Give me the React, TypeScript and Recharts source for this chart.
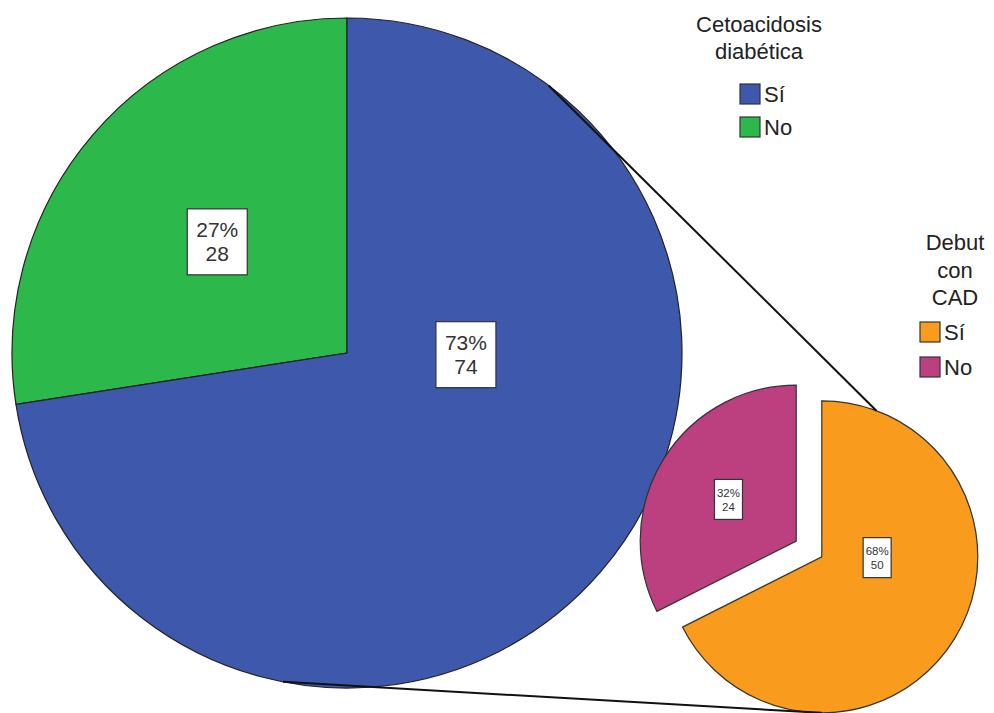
import React from 'react';
import { PieChart, Pie, Cell } from 'recharts';

const cadCategories = ['Sí', 'No'];
const cadValues = [74, 28];
const cadColors = ['#3E58AC', '#2DB84B'];
const cadTitle = ['Cetoacidosis', 'diabética'];

const debutCategories = ['Sí', 'No'];
const debutValues = [50, 24];
const debutColors = ['#F99B1C', '#BC3F7F'];
const debutTitle = ['Debut', 'con', 'CAD'];

const W = 994;
const H = 713;
const FONT = '"Liberation Sans", Arial, sans-serif';

// Big pie geometry
const BIG = { cx: 347, cy: 353, r: 335 };
// Small pie geometry
const SMALL = { cx: 809, cy: 549, r: 156, explode: 15 };

// order in big pie: No first (counter-clockwise from 12 o'clock), then Sí
const bigData = [
  { name: cadCategories[1], value: cadValues[1], color: cadColors[1] },
  { name: cadCategories[0], value: cadValues[0], color: cadColors[0] },
];

const smallData = debutCategories.map((n, i) => ({ name: n, value: debutValues[i], color: debutColors[i] }));
const smallTotal = debutValues.reduce((a, b) => a + b, 0);
const smallStart = 90;
const smallEnd = -270;

// mid angles of small pie slices for explode offsets
const smallMid = (() => {
  let acc = 0;
  return smallData.map((d) => {
    const span = (d.value / smallTotal) * 360;
    const mid = smallStart - (acc + span / 2);
    acc += span;
    return mid;
  });
})();
const smallCenters = smallMid.map((m) => ({
  cx: SMALL.cx + SMALL.explode * Math.cos((m * Math.PI) / 180),
  cy: SMALL.cy - SMALL.explode * Math.sin((m * Math.PI) / 180),
}));

const pt = (cx: number, cy: number, r: number, deg: number) => ({
  x: cx + r * Math.cos((deg * Math.PI) / 180),
  y: cy - r * Math.sin((deg * Math.PI) / 180),
});

const makeLabel = (fontSize: number, boxW: number, boxH: number, lineGap: number, onlyIndex?: number) => (props: any) => {
  const { cx, cy, midAngle, outerRadius, index, value, percent } = props;
  if (onlyIndex !== undefined && index !== onlyIndex) return null;
  const p = percent > 0.5 ? pt(cx, cy, outerRadius * 0.355, -0.8) : pt(cx, cy, outerRadius * 0.51, midAngle);
  const pct = Math.round(percent * 100);
  const base1 = p.y - lineGap / 2 + fontSize * 0.36;
  return (
    <g key={`lbl-${index}`}>
      <rect x={p.x - boxW / 2} y={p.y - boxH / 2} width={boxW} height={boxH} fill="#ffffff" stroke="#333" strokeWidth={1.2} />
      <text x={p.x} y={base1} textAnchor="middle" fontSize={fontSize} fill="#333" fontFamily={FONT}>
        {`${pct}%`}
      </text>
      <text x={p.x} y={base1 + lineGap} textAnchor="middle" fontSize={fontSize} fill="#333" fontFamily={FONT}>
        {`${value}`}
      </text>
    </g>
  );
};

export default function App() {
  // connector lines
  const orangeC = smallCenters[0];
  const top1 = pt(BIG.cx, BIG.cy, BIG.r, 53);
  const top2 = pt(orangeC.cx, orangeC.cy, SMALL.r, 69.5);
  const bot1 = pt(BIG.cx, BIG.cy, BIG.r, -101);
  const bot2 = pt(orangeC.cx, orangeC.cy, SMALL.r, -90);

  return (
    <div style={{ position: 'absolute', left: 0, top: 0, width: W, height: H, background: '#fff' }}>
      <PieChart width={W} height={H} margin={{ top: 0, right: 0, bottom: 0, left: 0 }}>
        <Pie
          data={bigData}
          dataKey="value"
          nameKey="name"
          cx={BIG.cx}
          cy={BIG.cy}
          outerRadius={BIG.r}
          startAngle={90}
          endAngle={450}
          stroke="#222"
          strokeWidth={1.2}
          isAnimationActive={false}
          labelLine={false}
          label={makeLabel(21, 60, 66, 24)}
        >
          {bigData.map((d, i) => (
            <Cell key={i} fill={d.color} />
          ))}
        </Pie>
        {smallData.map((_, k) => (
          <Pie
            key={`small-${k}`}
            data={smallData}
            dataKey="value"
            nameKey="name"
            cx={smallCenters[k].cx}
            cy={smallCenters[k].cy}
            outerRadius={SMALL.r}
            startAngle={smallStart}
            endAngle={smallEnd}
            isAnimationActive={false}
            labelLine={false}
            label={makeLabel(11.5, 28, 40, 14, k)}
          >
            {smallData.map((d, i) => (
              <Cell
                key={i}
                fill={i === k ? d.color : 'none'}
                stroke={i === k ? '#333' : 'none'}
                strokeWidth={1.2}
              />
            ))}
          </Pie>
        ))}
      </PieChart>
      <svg width={W} height={H} style={{ position: 'absolute', left: 0, top: 0, pointerEvents: 'none' }}>
        <line x1={top1.x} y1={top1.y} x2={top2.x} y2={top2.y} stroke="#111" strokeWidth={2} />
        <line x1={bot1.x} y1={bot1.y} x2={bot2.x} y2={bot2.y} stroke="#111" strokeWidth={2} />
        {cadTitle.map((t, i) => (
          <text key={t} x={759} y={32 + i * 27} textAnchor="middle" fontSize={22} fill="#222" fontFamily={FONT}>
            {t}
          </text>
        ))}
        {cadCategories.map((c, i) => (
          <g key={c}>
            <rect x={740} y={84 + i * 33} width={20} height={20} fill={cadColors[i]} stroke="#333" strokeWidth={1.2} />
            <text x={764} y={102 + i * 33} fontSize={22} fill="#222" fontFamily={FONT}>
              {c}
            </text>
          </g>
        ))}
        {debutTitle.map((t, i) => (
          <text key={t} x={955} y={250 + i * 27.5} textAnchor="middle" fontSize={22} fill="#222" fontFamily={FONT}>
            {t}
          </text>
        ))}
        {debutCategories.map((c, i) => (
          <g key={c}>
            <rect x={920} y={322 + i * 35} width={20} height={20} fill={debutColors[i]} stroke="#333" strokeWidth={1.2} />
            <text x={944} y={340 + i * 35} fontSize={22} fill="#222" fontFamily={FONT}>
              {c}
            </text>
          </g>
        ))}
      </svg>
    </div>
  );
}
